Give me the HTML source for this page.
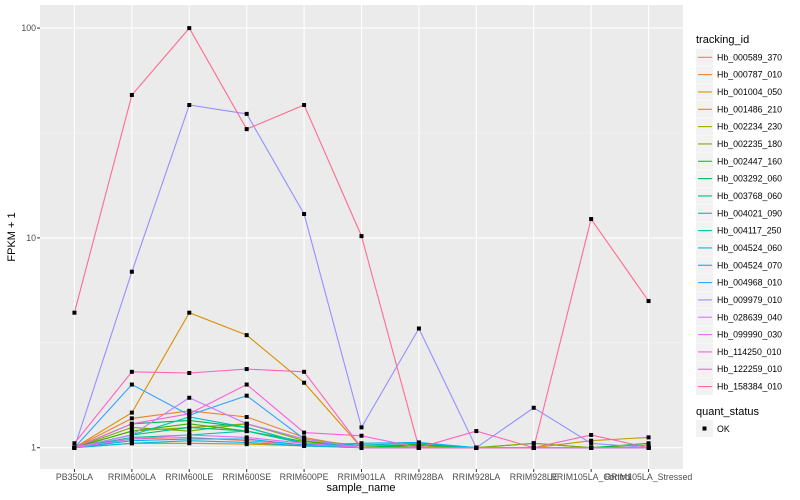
<!DOCTYPE html>
<html><head><meta charset="utf-8"><style>
body{margin:0;background:#fff;}
svg{display:block;font-family:"Liberation Sans",Arial,sans-serif;}
</style></head><body>
<svg id="chart" width="800" height="500">
<rect x="40" y="5" width="643" height="464" fill="#ebebeb"/>
<g id="grid"></g><g id="lines"></g><g id="pts"></g><g id="axes"></g><g id="legend"></g>
<text x="361" y="491" font-size="11" text-anchor="middle" fill="#000">sample_name</text>
<text transform="translate(15,237) rotate(-90)" font-size="11" text-anchor="middle" fill="#000">FPKM + 1</text>
</svg>
<script>
const categories=["PB350LA","RRIM600LA","RRIM600LE","RRIM600SE","RRIM600PE","RRIM901LA","RRIM928BA","RRIM928LA","RRIM928LE","RRIM105LA_Control","RRIM105LA_Stressed"];
const seriesNames=["Hb_000589_370","Hb_000787_010","Hb_001004_050","Hb_001486_210","Hb_002234_230","Hb_002235_180","Hb_002447_160","Hb_003292_060","Hb_003768_060","Hb_004021_090","Hb_004117_250","Hb_004524_060","Hb_004524_070","Hb_004968_010","Hb_009979_010","Hb_028639_040","Hb_099990_030","Hb_114250_010","Hb_122259_010","Hb_158384_010"];
const seriesColors=["#F8766D","#EA8331","#D89000","#C09B00","#A3A500","#7CAE00","#39B600","#00BB4E","#00BF7D","#00C1A3","#00BFC4","#00BAE0","#00B0F6","#35A2FF","#9590FF","#C77CFF","#E76BF3","#FA62DB","#FF62BC","#FF6C91"];
const s00=[1,1.1,1.12,1.08,1.03,1,1,1,1,1,1];
const s01=[1,1.38,1.5,1.4,1.12,1,1,1,1,1,1];
const s02=[1,1.47,4.4,3.44,2.04,1,1,1,1,1,1];
const s03=[1,1.05,1.05,1.04,1.02,1,1,1,1,1.08,1.12];
const s04=[1,1.2,1.25,1.3,1.1,1.02,1.03,1,1.05,1,1];
const s05=[1,1.25,1.2,1.3,1.08,1,1.02,1,1.05,1,1.03];
const s06=[1,1.2,1.3,1.2,1.07,1,1.04,1,1,1,1];
const s07=[1,1.3,1.35,1.25,1.05,1,1.03,1,1,1,1.05];
const s08=[1,1.15,1.25,1.2,1.05,1,1,1,1,1,1];
const s09=[1,1.12,1.15,1.2,1.05,1,1,1,1,1,1];
const s10=[1,1.15,1.4,1.25,1.05,1.03,1.05,1,1,1,1];
const s11=[1,1.05,1.08,1.06,1.02,1,1,1,1,1,1];
const s12=[1,1.08,1.1,1.1,1.03,1.05,1.06,1,1,1,1];
const s13=[1,2.0,1.43,1.77,1.1,1,1,1,1,1,1];
const s14=[1,6.9,43,39,13,1.25,3.7,1,1.55,1.05,1];
const s15=[1,1.15,1.73,1.3,1.1,1,1,1,1,1,1];
const s16=[1,1.1,1.15,1.12,1.05,1,1,1,1,1,1];
const s17=[1,1.3,1.45,2.0,1.18,1.14,1,1,1,1,1];
const s18=[1.05,2.3,2.27,2.37,2.3,1.0,1,1.2,1,1.15,1];
const s19=[4.4,48,100,33,43,10.2,1,1,1,12.3,5.0];
const seriesValues=[s00,s01,s02,s03,s04,s05,s06,s07,s08,s09,s10,s11,s12,s13,s14,s15,s16,s17,s18,s19];
const yTicks=[1,10,100];
const yTickLabels=["1","10","100"];
const yMinor=[Math.sqrt(10),Math.sqrt(1000)];

const NS="http://www.w3.org/2000/svg";
const L=40,R=683,T=5,B=469;
const step=(R-L)/(categories.length+0.2);
function xs(i){return L+(i+0.6)*step;}
function ys(v){return 447.7-Math.log10(v)*209.8;}
function mk(tag,attrs,parent){const e=document.createElementNS(NS,tag);for(const k in attrs)e.setAttribute(k,attrs[k]);parent.appendChild(e);return e;}
const grid=document.getElementById('grid'),lines=document.getElementById('lines'),pts=document.getElementById('pts'),axes=document.getElementById('axes'),leg=document.getElementById('legend');
yMinor.forEach(v=>{const g=mk('line',{x1:L,x2:R,y1:ys(v),y2:ys(v),stroke:'#f5f5f5','stroke-width':0.6},grid);

});
yTicks.forEach((v,i)=>{const g=mk('line',{x1:L,x2:R,y1:ys(v),y2:ys(v),stroke:'#fff','stroke-width':1.1},grid);


const t=mk('line',{x1:L-3,x2:L,y1:ys(v),y2:ys(v),stroke:'#333','stroke-width':1},axes);


const tx=mk('text',{x:L-4,y:ys(v)+3,'font-size':8.8,'text-anchor':'end',fill:'#4d4d4d'},axes);tx.textContent=yTickLabels[i];

});
categories.forEach((c,i)=>{const x=xs(i);const g=mk('line',{x1:x,x2:x,y1:T,y2:B,stroke:'#fff','stroke-width':1.1},grid);


const t=mk('line',{x1:x,x2:x,y1:B,y2:B+3,stroke:'#333','stroke-width':1},axes);


const tx=mk('text',{x:x,y:B+11,'font-size':8.8,'text-anchor':'middle',fill:'#4d4d4d'},axes);tx.textContent=c;

});
seriesValues.forEach((vals,si)=>{const d=vals.map((v,i)=>(i?'L':'M')+xs(i).toFixed(1)+','+ys(v).toFixed(1)).join(' ');
const p=mk('path',{d:d,fill:'none',stroke:seriesColors[si],'stroke-width':1.1},lines);


vals.forEach((v,i)=>{const r=mk('rect',{x:xs(i)-2,y:ys(v)-2,width:4,height:4,fill:'#000'},pts);

});});
const lt=mk('text',{x:696,y:43,'font-size':11,fill:'#000'},leg);lt.textContent='tracking_id';


seriesNames.forEach((n,i)=>{const y=57.3+i*17.33;
const bg=mk('rect',{x:696,y:y-8.5,width:17,height:17,fill:'#f2f2f2'},leg);


const ln=mk('line',{x1:698,x2:712,y1:y,y2:y,stroke:seriesColors[i],'stroke-width':1.1},leg);


const tx=mk('text',{x:717,y:y+3,'font-size':8.8,fill:'#000'},leg);tx.textContent=n;

});
const qt=mk('text',{x:696,y:415,'font-size':11,fill:'#000'},leg);qt.textContent='quant_status';


const qb=mk('rect',{x:696,y:420,width:17,height:17,fill:'#f2f2f2'},leg);


const qp=mk('rect',{x:702.5,y:426.5,width:4,height:4,fill:'#000'},leg);


const qx=mk('text',{x:717,y:432,'font-size':8.8,fill:'#000'},leg);qx.textContent='OK';


</script>
</body></html>
